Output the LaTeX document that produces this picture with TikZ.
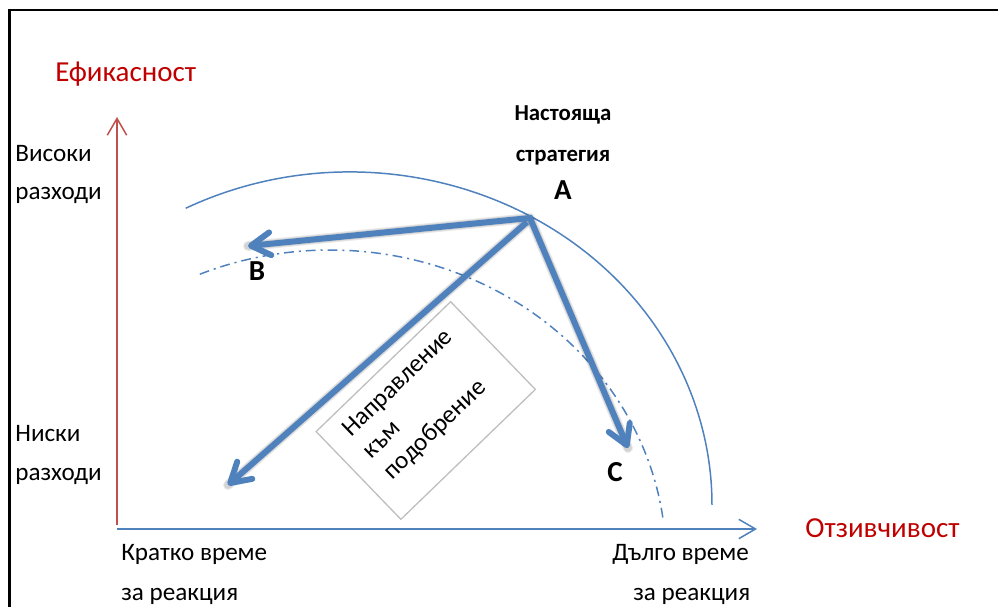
\documentclass[tikz,border=0pt]{standalone}
\usepackage{fontspec}
\setmainfont{Carlito}
\usetikzlibrary{arrows.meta}
\definecolor{accentblue}{HTML}{4F81BD}
\definecolor{axisred}{HTML}{C0504D}
\definecolor{labelred}{HTML}{C00000}
\definecolor{boxgray}{HTML}{BFBFBF}
\tikzset{
  frameline/.style={black, line width=1.4pt},
  axisline/.style={line width=0.85pt, -{Straight Barb[length=9.5pt,width=11pt]}},
  frontier/.style={accentblue, line width=0.85pt},
  innerfrontier/.style={accentblue, line width=0.85pt,
    dash pattern=on 5.6pt off 2.8pt on 1.2pt off 2.8pt},
  movearrow/.style={accentblue, line width=3.4pt, line join=miter},
  movetip/.tip={Straight Barb[length=11pt,width=13pt,round]},
  moveshadow/.style={black, opacity=0.09, line join=round, line cap=round},
  sidelabel/.style={inner sep=0pt, font=\fontsize{14.3}{17}\selectfont},
  axistitle/.style={inner sep=0pt, text=labelred, font=\fontsize{16.5}{19}\selectfont},
  pointlabel/.style={inner sep=0pt, font=\bfseries\fontsize{16.5}{19}\selectfont},
  stratlabel/.style={inner sep=0pt, font=\bfseries\fontsize{13}{15}\selectfont},
  boxtext/.style={inner sep=0pt, rotate=44, anchor=base west, font=\fontsize{14.3}{17}\selectfont},
}
\begin{document}
\begin{tikzpicture}[x=0.02cm, y=-0.02cm]
\useasboundingbox (0,0) rectangle (998,607);

% outer frame (only top and left edges fall inside the page)
\coordinate (frameBL) at (9.3,607);
\coordinate (frameTL) at (9.3,9.8);
\coordinate (frameTR) at (998,9.8);
\draw[frameline] (frameBL) -- (frameTL) -- (frameTR);

% axes
\coordinate (vbase) at (117,525);
\coordinate (vtip) at (117,117);
\coordinate (hbase) at (117,529);
\coordinate (htip) at (757,529);
\draw[axisline, axisred] (vbase) -- (vtip);
\draw[axisline, accentblue] (hbase) -- (htip);

% efficient frontier and the dash-dot inner frontier
\draw[frontier] (350,505) ++(-117:362 and 333)
  arc[start angle=-117, end angle=0, x radius=362, y radius=333];
\draw[innerfrontier] (330,560) ++(-112.8:336 and 310)
  arc[start angle=-112.8, end angle=-7.8, x radius=336, y radius=310];

% direction box
\node[draw=boxgray, line width=0.75pt, rotate=44, inner sep=0pt,
      minimum width=3.74cm, minimum height=2.44cm] (dirbox) at (425.75,410.5) {};
\node[boxtext] (dir1) at (351.0,437.9) {Направление};
\node[boxtext] (dir2) at (371.7,459.4) {към};
\node[boxtext] (dir3) at (392.3,480.7) {подобрение};

% moves from the current strategy
\coordinate (A) at (530,218);
\coordinate (Btip) at (248,246);
\coordinate (Ctip) at (628,448);
\coordinate (Dtip) at (228,485);
\coordinate (Dstart) at (527,222);
\begin{scope}[shift={(2.5,3.5)}]
  \draw[moveshadow, line width=5.6pt] (Btip) -- (A) -- (Ctip);
  \draw[moveshadow, line width=5.6pt] (Dstart) -- (Dtip);
  \draw[moveshadow, line width=4.4pt] (Btip) -- (A) -- (Ctip);
  \draw[moveshadow, line width=4.4pt] (Dstart) -- (Dtip);
\end{scope}
\draw[movearrow, movetip-movetip] (Btip) -- (A) -- (Ctip);
\draw[movearrow, -movetip] (Dstart) -- (Dtip);

% labels
\node[axistitle, anchor=base west] (effic) at (55,82) {Ефикасност};
\node[axistitle, anchor=base west] (respons) at (805,538) {Отзивчивост};
\node[sidelabel, anchor=base west] (high1) at (15,162) {Високи};
\node[sidelabel, anchor=base west] (high2) at (15,200) {разходи};
\node[sidelabel, anchor=base west] (low1) at (15,442) {Ниски};
\node[sidelabel, anchor=base west] (low2) at (15,481) {разходи};
\node[sidelabel, anchor=base west] (short1) at (121,561) {Кратко време};
\node[sidelabel, anchor=base west] (short2) at (121,601) {за реакция};
\node[sidelabel, anchor=base west] (long1) at (612,561) {Дълго време};
\node[sidelabel, anchor=base west] (long2) at (633,601) {за реакция};
\node[stratlabel, anchor=base] (strat1) at (563,121) {Настояща};
\node[stratlabel, anchor=base] (strat2) at (563,162) {стратегия};
\node[pointlabel, anchor=base] (labA) at (563,200) {A};
\node[pointlabel, anchor=base] (labB) at (257,281) {B};
\node[pointlabel, anchor=base] (labC) at (615,482) {C};
\end{tikzpicture}
\end{document}
